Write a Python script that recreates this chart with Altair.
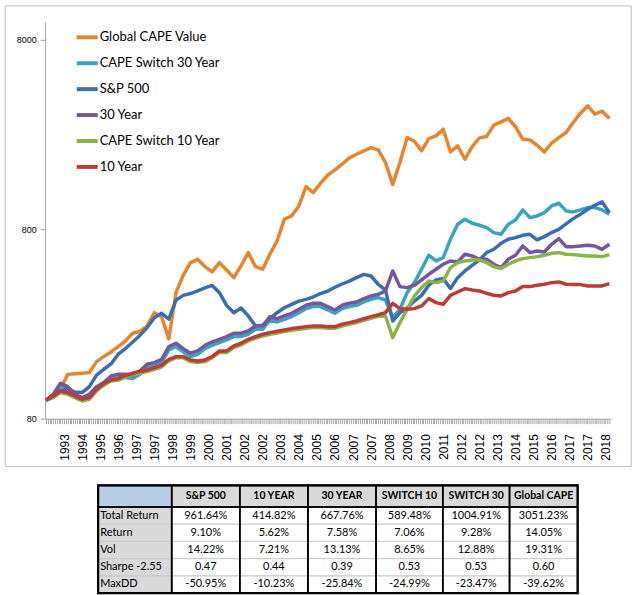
import altair as alt
import pandas as pd

# ---------------- data ----------------
dates = [d.strftime("%Y-%m-%d") for d in pd.date_range("1992-12-01", "2018-12-01", freq="4MS")]

series_names = ["Global CAPE Value", "CAPE Switch 30 Year", "S&P 500",
                "30 Year", "CAPE Switch 10 Year", "10 Year"]
series_colors = ["#E7852F", "#3AA4BD", "#3A6EB0", "#7556A0", "#88B544", "#BC3C37"]

global_cape = [100, 107, 115, 137, 138, 139, 140, 160, 170, 180,
               192, 206, 226, 231, 247, 290, 276, 211, 370, 457,
               533, 555, 508, 476, 533, 487, 444, 512, 602, 508,
               492, 590, 694, 903, 940, 1062, 1343, 1249, 1399, 1542,
               1645, 1763, 1904, 1990, 2073, 2159, 2098, 1799, 1380, 1799,
               2438, 2332, 2073, 2409, 2489, 2699, 2047, 2203, 1873, 2185,
               2428, 2468, 2834, 2951, 3072, 2788, 2390, 2370, 2220, 2047,
               2276, 2438, 2592, 2927, 3280, 3585, 3240, 3360, 3072]

switch30 = [100, 106.7, 120, 116.2, 106.3, 102, 105.4, 114.3, 120, 129,
            131.7, 131.7, 130.1, 137.2, 148.8, 151.8, 158.1, 184.4, 192, 179.9,
            170, 174.9, 187.4, 195.2, 201.6, 208.2, 216.9, 216.9, 223.1, 237,
            237, 265.5, 259.1, 267.6, 276.5, 290.2, 304.7, 312.2, 312.2, 299.8,
            287.9, 304.7, 312.2, 317.3, 330.4, 341.3, 348.3, 338.5, 273.1, 302.2,
            370.1, 418, 491.5, 582.8, 544.1, 566.5, 707.8, 849.6, 902.8, 860,
            839.3, 815.9, 767.6, 752.2, 849.6, 895.5, 1011.5, 921.4, 940.2, 979.1,
            1061.8, 1097, 999.3, 987.1, 1011.5, 1040.6, 1040.6, 1011.5, 959.6]

sp500 = [100, 104.5, 112, 115, 110.6, 109.8, 118, 135.7, 145.8, 155.5,
         175, 187.5, 203, 220, 242, 273, 288, 268, 338, 358,
         366, 378, 392, 404, 370, 317, 290, 307, 279, 247,
         249, 270, 290, 308, 321, 334, 341, 351, 366, 377,
         395, 411, 426, 444, 462, 453, 409, 382, 262, 290,
         307, 334, 358, 405, 432, 440, 389, 444, 482, 516,
         550, 602, 627, 674, 708, 722, 743, 752, 703, 731,
         768, 799, 853, 910, 959, 1020, 1071, 1115, 979]

year30 = [100, 107.6, 122.9, 118, 107.6, 103.3, 107.6, 118, 123.9, 134.4,
          137.2, 137.2, 135.5, 142.9, 155, 158.1, 164.6, 192, 200, 187.4,
          177.1, 182.2, 195.2, 203.3, 209.9, 216.9, 225.8, 225.8, 232.3, 246.8,
          246.8, 276.5, 269.7, 278.7, 287.9, 302.2, 317.3, 325.1, 325.1, 312.2,
          299.8, 317.3, 325.1, 330.4, 344.1, 355.4, 362.7, 377.7, 481.7, 398.2,
          393.4, 404.7, 431.8, 462.6, 491.5, 522.5, 544.1, 537.5, 589.9, 578,
          555.1, 555.1, 522.5, 501.7, 555.1, 582.8, 652.7, 601.9, 614.3, 606.9,
          666.1, 713.7, 647.4, 647.4, 652.7, 658.1, 652.7, 626.8, 666.1]

switch10 = [100, 103.3, 109.8, 107.6, 103.3, 99.2, 101.2, 112, 120.5, 126.4,
            127.4, 132.9, 136.1, 139.4, 141.7, 145.8, 149.9, 161.3, 167.9, 167.9,
            160, 158.1, 160, 167.9, 178.5, 178.5, 189.7, 195.9, 205.7, 212.4,
            218.6, 223.1, 226.7, 230.3, 234.2, 237, 240, 241.9, 241.9, 240,
            240, 246.8, 251.9, 257, 264.4, 270.8, 277.6, 278.7, 214.2, 257,
            302.2, 355.4, 393.4, 426.6, 418, 426.6, 501.7, 533.1, 544.1, 550.6,
            550.6, 533.1, 507.8, 495.6, 522.5, 544.1, 559.7, 566.5, 573.3, 582.8,
            597.1, 601.9, 589.9, 587.5, 582.8, 578, 578, 573.3, 587.5]

year10 = [100, 105.4, 112, 109.8, 105.4, 101.2, 103.3, 114.3, 122.9, 128,
          130.1, 135.5, 138.9, 142.3, 144.6, 148.8, 153, 164.6, 170, 170,
          163.3, 161.3, 163.3, 170, 182.2, 182.2, 193.6, 200, 209.9, 216.9,
          223.1, 227.6, 231.2, 235.1, 239, 241.9, 244.8, 246.8, 246.8, 244.8,
          244.8, 251.9, 257, 262.3, 269.8, 276.4, 282.8, 290.2, 325.1, 304.7,
          302.2, 304.7, 314.7, 344.1, 327.7, 321.2, 358.3, 373.1, 388.6, 382.3,
          377.7, 367.1, 358.3, 355.4, 370.1, 377.7, 398.2, 398.2, 404.7, 409.7,
          418, 421.5, 409.7, 408.1, 408.1, 401.4, 401.4, 401.4, 412.8]

y_ticks = [80, 800, 8000]

# table
table_header = ["", "S&P 500", "10 YEAR", "30 YEAR", "SWITCH 10", "SWITCH 30", "Global CAPE"]
row_labels = ["Total Return", "Return", "Vol", "Sharpe -2.55", "MaxDD"]
col_sp500 = ["961.64%", "9.10%", "14.22%", "0.47", "-50.95%"]
col_10y = ["414.82%", "5.62%", "7.21%", "0.44", "-10.23%"]
col_30y = ["667.76%", "7.58%", "13.13%", "0.39", "-25.84%"]
col_sw10 = ["589.48%", "7.06%", "8.65%", "0.53", "-24.99%"]
col_sw30 = ["1004.91%", "9.28%", "12.88%", "0.53", "-23.47%"]
col_gcape = ["3051.23%", "14.05%", "19.31%", "0.60", "-39.62%"]

# table layout (relative column widths / row heights)
col_edges = [0, 1.08, 2.08, 3.08, 4.08, 5.06, 6.04, 7.04]
row_edges = [0, 1.25, 2.25, 3.25, 4.25, 5.25, 6.25]

# ---------------- line chart ----------------
all_series = [global_cape, switch30, sp500, year30, switch10, year10]
recs = []
for name, vals in zip(series_names, all_series):
    for d, v in zip(dates, vals):
        recs.append({"date": d, "series": name, "value": v})
df = pd.DataFrame(recs)

tick_values = [alt.DateTime(year=d.year, month=d.month, date=1, utc=True)
               for d in pd.date_range("1992-12-01", "2018-12-01", freq="MS")]

W, H = 568, 398

idx_expr = "((utcyear(datum.value)-1992)*12 + utcmonth(datum.value) - 11)"
x_enc = alt.X(
    "date:T",
    scale=alt.Scale(type="utc",
                    domain=[alt.DateTime(year=1992, month=11, date=15, utc=True),
                            alt.DateTime(year=2019, month=1, date=3, utc=True)]),
    axis=alt.Axis(values=tick_values, title=None, grid=False,
                  labelExpr=f"({idx_expr} % 10 == 0 && {idx_expr} > 0) ? utcFormat(datum.value, '%Y') : ''",
                  labelAngle=270, labelOverlap=False, labelFlush=False, labelBound=False,
                  labelFont="Liberation Sans", labelFontSize=12, labelColor="#000000",
                  labelPadding=10, tickSize=5, tickColor="#a6a6a6", tickWidth=1,
                  domainColor="#a6a6a6"),
)
y_enc = alt.Y(
    "value:Q",
    scale=alt.Scale(type="log", domain=[80, 9950]),
    axis=alt.Axis(values=y_ticks, format="d", title=None, grid=False,
                  labelFont="Liberation Sans", labelFontSize=9, labelColor="#000000",
                  labelPadding=4, tickSize=5, tickColor="#a6a6a6",
                  domainColor="#a6a6a6"),
)
color_enc = alt.Color(
    "series:N",
    scale=alt.Scale(domain=series_names, range=series_colors),
    legend=alt.Legend(title=None, orient="none", legendX=30, legendY=3,
                      symbolType="stroke", symbolSize=441, symbolStrokeWidth=4,
                      labelFont="Lato", labelFontSize=13, labelColor="#000000",
                      labelOffset=0, rowPadding=5),
)

base = alt.Chart(df)
line_layers = [
    base.transform_filter(alt.datum.series == name)
    .mark_line(strokeWidth=3.5, strokeJoin="round")
    .encode(x=x_enc, y=y_enc, color=color_enc)
    for name in series_names
]

frame = alt.Chart(pd.DataFrame({"f": [0]})).mark_rect(
    fillOpacity=0, stroke="#bdbdbd", strokeWidth=1
).encode(x=alt.value(-40), x2=alt.value(W + 20), y=alt.value(-16), y2=alt.value(H + 48))

top = alt.layer(frame, *line_layers).properties(width=W, height=H)

# ---------------- table ----------------
cols = [table_header[1:], col_sp500, col_10y, col_30y, col_sw10, col_sw30, col_gcape]
cells = []
for c in range(7):
    for r in range(6):
        if r == 0:
            text = table_header[c]
            kind = "corner" if c == 0 else "header"
        elif c == 0:
            text = row_labels[r - 1]
            kind = "label"
        else:
            text = cols[c][r - 1]
            kind = "data"
        fill = {"corner": "#b9cde5", "header": "#d9d9d9",
                "label": "#d9d9d9", "data": "#ffffff"}[kind]
        c0, c1 = col_edges[c], col_edges[c + 1]
        r0, r1 = row_edges[r], row_edges[r + 1]
        cells.append({"c0": c0, "c1": c1, "cm": (c0 + c1) / 2, "r0": r0, "r1": r1,
                      "rm": (r0 + r1) / 2, "row": r, "text": text, "kind": kind,
                      "fill": fill})
cdf = pd.DataFrame(cells)

TW, TH = 481, 108
tx = alt.Scale(domain=[0, col_edges[-1]], nice=False, zero=False)
ty = alt.Scale(domain=[0, row_edges[-1]], nice=False, zero=False, reverse=True)
tbase = alt.Chart(cdf)


def cell_enc(ch):
    return ch.encode(
        x=alt.X("c0:Q", scale=tx, axis=None), x2="c1:Q",
        y=alt.Y("r0:Q", scale=ty, axis=None), y2="r1:Q")


fills = cell_enc(tbase.mark_rect(strokeWidth=0)).encode(
    fill=alt.Fill("fill:N", scale=None))
grid = cell_enc(tbase.transform_filter("datum.row > 0").mark_rect(
    fillOpacity=0, stroke="#c8c8c8", strokeWidth=0.8))
col_df = pd.DataFrame({"c0": col_edges[:-1], "c1": col_edges[1:],
                       "r0": [row_edges[1]] * 7, "r1": [row_edges[-1]] * 7})
col_lines = cell_enc(alt.Chart(col_df).mark_rect(
    fillOpacity=0, stroke="#000000", strokeWidth=1.6))
head_lines = cell_enc(tbase.transform_filter("datum.row == 0").mark_rect(
    fillOpacity=0, stroke="#000000", strokeWidth=1.6))
outer = cell_enc(alt.Chart(pd.DataFrame({"c0": [0], "c1": [col_edges[-1]],
                                         "r0": [0], "r1": [row_edges[-1]]})).mark_rect(
    fillOpacity=0, stroke="#000000", strokeWidth=2.2))

head_text = tbase.transform_filter("datum.kind == 'header'").mark_text(
    font="Lato", fontSize=10.5, fontWeight="bold", color="#000000").encode(
    x=alt.X("cm:Q", scale=tx, axis=None), y=alt.Y("rm:Q", scale=ty, axis=None),
    text="text:N")
label_text = tbase.transform_filter("datum.kind == 'label'").mark_text(
    font="Lato", fontSize=11, align="left", dx=2, color="#000000").encode(
    x=alt.X("c0:Q", scale=tx, axis=None), y=alt.Y("rm:Q", scale=ty, axis=None),
    text="text:N")
data_text = tbase.transform_filter("datum.kind == 'data'").mark_text(
    font="Lato", fontSize=11, color="#000000").encode(
    x=alt.X("cm:Q", scale=tx, axis=None), y=alt.Y("rm:Q", scale=ty, axis=None),
    text="text:N")

table = alt.layer(fills, grid, col_lines, head_lines, outer,
                  head_text, label_text, data_text).properties(width=TW, height=TH)

chart = alt.vconcat(top, table, spacing=16, center=True).resolve_scale(
    x="independent", y="independent").properties(
    padding={"left": 4, "top": 4, "right": 8, "bottom": 5},
    background="#ffffff",
).configure_view(stroke=None)

chart.save("out.html", embed_options={"renderer": "svg", "actions": False})
